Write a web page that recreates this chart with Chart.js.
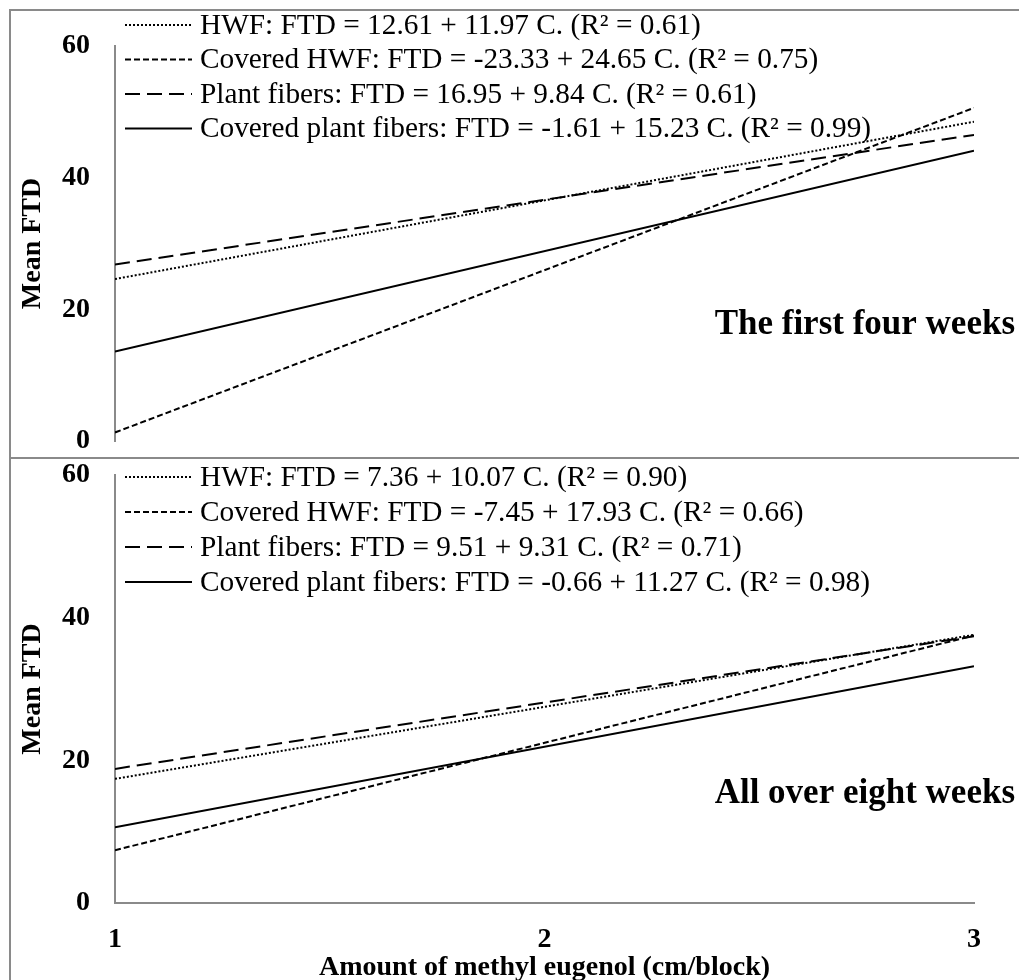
<!DOCTYPE html>
<html>
<head>
<meta charset="utf-8">
<script src="https://cdn.jsdelivr.net/npm/chart.js@4/dist/chart.umd.min.js"></script>
<style>
  html, body { margin: 0; padding: 0; background: #fff; overflow: hidden; }
  #wrap { position: relative; width: 1019px; height: 980px; overflow: hidden; background: #fff; }
  canvas { position: absolute; left: 0; }
  .frame { position: absolute; background: #8a8a8a; }
</style>
</head>
<body>
<div id="wrap">
  <canvas id="c1" width="1019" height="458" style="top:0px"></canvas>
  <canvas id="c2" width="1019" height="524" style="top:458px"></canvas>
  <div class="frame" style="left:9px; top:9px; width:1010px; height:2px;"></div>
  <div class="frame" style="left:9px; top:9px; width:2px; height:971px;"></div>
  <div class="frame" style="left:9px; top:457px; width:1010px; height:2px;"></div>
</div>
<script>
// ---- data ----
const xValues = [1, 3];
const xTickLabels = ['1', '2', '3'];
const yTicks = [0, 20, 40, 60];

const seriesNames = ['HWF', 'Covered HWF', 'Plant fibers', 'Covered plant fibers'];

// Panel 1: the first four weeks
const topHWF = [24.6, 48.5];
const topCoveredHWF = [1.3, 50.6];
const topPlantFibers = [26.8, 46.5];
const topCoveredPlantFibers = [13.6, 44.1];
const topLegendLabels = [
  'HWF: FTD = 12.61 + 11.97 C. (R\u00B2 = 0.61)',
  'Covered HWF: FTD = -23.33 + 24.65 C. (R\u00B2 = 0.75)',
  'Plant fibers: FTD = 16.95 + 9.84 C. (R\u00B2 = 0.61)',
  'Covered plant fibers: FTD = -1.61 + 15.23 C. (R\u00B2 = 0.99)'
];
const topPanelTitle = 'The first four weeks';

// Panel 2: all over eight weeks
const bottomHWF = [17.4, 37.6];
const bottomCoveredHWF = [7.4, 37.5];
const bottomPlantFibers = [18.8, 37.4];
const bottomCoveredPlantFibers = [10.6, 33.2];
const bottomLegendLabels = [
  'HWF: FTD = 7.36 + 10.07 C. (R\u00B2 = 0.90)',
  'Covered HWF: FTD = -7.45 + 17.93 C. (R\u00B2 = 0.66)',
  'Plant fibers: FTD = 9.51 + 9.31 C. (R\u00B2 = 0.71)',
  'Covered plant fibers: FTD = -0.66 + 11.27 C. (R\u00B2 = 0.98)'
];
const bottomPanelTitle = 'All over eight weeks';

const yTitle = 'Mean FTD';
const xTitle = 'Amount of methyl eugenol (cm/block)';

// ---- styles ----
const FONT = "'Liberation Serif', 'Times New Roman', serif";
const AXIS_GRAY = '#8a8a8a';
const dashes = [[2, 2], [6, 3], [15, 7], []];

Chart.defaults.font.family = FONT;
Chart.defaults.color = '#000';

function makeDatasets(arrs, labels) {
  return arrs.map((vals, i) => ({
    label: labels[i],
    data: xValues.map((x, j) => ({ x: x, y: vals[j] })),
    borderColor: '#000',
    backgroundColor: '#000',
    borderWidth: 2,
    borderDash: dashes[i],
    pointRadius: 0,
    fill: false,
    tension: 0
  }));
}

const annotPlugin = {
  id: 'annot',
  afterDatasetsDraw(chart, args, opts) {
    const ctx = chart.ctx;
    ctx.save();
    // legend
    chart.data.datasets.forEach((ds, i) => {
      const y = opts.legendY + i * opts.legendStep;
      ctx.beginPath();
      ctx.setLineDash(ds.borderDash || []);
      ctx.lineWidth = ds.borderWidth;
      ctx.strokeStyle = ds.borderColor;
      ctx.moveTo(125, y);
      ctx.lineTo(192, y);
      ctx.stroke();
      ctx.setLineDash([]);
      ctx.font = "29.3px " + FONT;
      ctx.fillStyle = '#000';
      ctx.textAlign = 'left';
      ctx.textBaseline = 'middle';
      ctx.fillText(ds.label, 200, y + 1);
    });
    // panel title
    ctx.font = "bold 35px " + FONT;
    ctx.textAlign = 'right';
    ctx.textBaseline = 'middle';
    ctx.fillText(opts.panelTitle, 1015, opts.panelY);
    ctx.restore();
  }
};

function yScale() {
  return {
    min: 0, max: 60,
    afterBuildTicks(s) { s.ticks = yTicks.map(v => ({ value: v })); },
    afterFit(s) { s.width = 105; s.paddingTop = 0; s.paddingBottom = 0; },
    grid: { display: false, drawTicks: false },
    border: { display: true, color: AXIS_GRAY, width: 2 },
    ticks: { padding: 25, font: { size: 28, weight: 'bold' }, color: '#000' },
    title: { display: true, text: yTitle, font: { size: 28, weight: 'bold' }, color: '#000', padding: { top: 6, bottom: 0 } }
  };
}

// Top chart
new Chart(document.getElementById('c1'), {
  type: 'line',
  data: { datasets: makeDatasets([topHWF, topCoveredHWF, topPlantFibers, topCoveredPlantFibers], topLegendLabels) },
  options: {
    responsive: false, animation: false, devicePixelRatio: 1,
    layout: { padding: { top: 46, right: 45, bottom: 17, left: 10 } },
    plugins: {
      legend: { display: false }, tooltip: { enabled: false },
      annot: { legendY: 25, legendStep: 34.5, panelTitle: topPanelTitle, panelY: 325 }
    },
    scales: {
      x: { type: 'linear', min: 1, max: 3, display: false },
      y: yScale()
    }
  },
  plugins: [annotPlugin]
});

// Bottom chart
new Chart(document.getElementById('c2'), {
  type: 'line',
  data: { datasets: makeDatasets([bottomHWF, bottomCoveredHWF, bottomPlantFibers, bottomCoveredPlantFibers], bottomLegendLabels) },
  options: {
    responsive: false, animation: false, devicePixelRatio: 1,
    layout: { padding: { top: 17, right: 45, bottom: 0, left: 10 } },
    plugins: {
      legend: { display: false }, tooltip: { enabled: false },
      annot: { legendY: 19, legendStep: 35, panelTitle: bottomPanelTitle, panelY: 336 }
    },
    scales: {
      x: {
        type: 'linear', min: 1, max: 3,
        afterBuildTicks(s) { s.ticks = xTickLabels.map(t => ({ value: Number(t) })); },
        afterFit(s) { s.height = 79; s.paddingLeft = 0; s.paddingRight = 0; },
        grid: { display: false, drawTicks: false },
        border: { display: true, color: AXIS_GRAY, width: 2 },
        ticks: {
          padding: 20, font: { size: 28, weight: 'bold' }, color: '#000', maxRotation: 0,
          callback: (v) => xTickLabels[xTickLabels.indexOf(String(v))] ?? ''
        },
        title: { display: true, text: xTitle, font: { size: 28, weight: 'bold', lineHeight: 1 }, color: '#000', padding: { top: 0, bottom: 0 } }
      },
      y: yScale()
    }
  },
  plugins: [annotPlugin]
});
</script>
</body>
</html>
